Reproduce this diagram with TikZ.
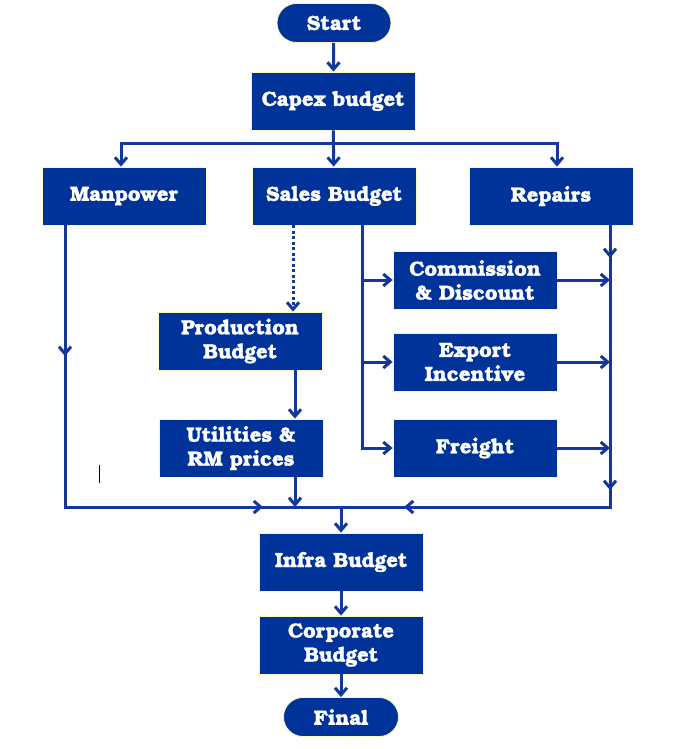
\documentclass[tikz,border=0pt]{standalone}
\usepackage{fontspec}
\setmainfont{TeX Gyre Bonum}[BoldFeatures={FakeBold=1.2}]
\usetikzlibrary{arrows.meta}
\definecolor{boxblue}{RGB}{0,51,153}
\definecolor{lineblue}{RGB}{20,55,155}
\definecolor{edgey}{RGB}{250,250,190}
\begin{document}
\begin{tikzpicture}[x=1pt,y=-1pt,
  box/.style={rectangle, fill=boxblue, draw=edgey, line width=0.8pt,
    minimum width=164pt, minimum height=58pt, inner sep=0pt, text=white,
    font=\fontsize{20.5}{24}\selectfont\bfseries, align=center},
  pill/.style={box, rounded corners=19.5pt, minimum height=39pt, minimum width=114pt},
  ln/.style={draw=lineblue, line width=3pt},
  arr/.style={ln, -{Straight Barb[length=7pt,width=12pt]}}]
\useasboundingbox (0,0) rectangle (676,749);
\fill[white] (0,0) rectangle (676,749);
% nodes
\node[pill] (start) at (334,23) {Start};
\node[box] (capex) at (333,101) {Capex budget};
\node[box] (mp) at (124,196) {Manpower};
\node[box] (sales) at (334,196) {Sales Budget};
\node[box] (rep) at (551,196) {Repairs};
\node[box] (cd) at (475,280) {Commission\\\& Discount};
\node[box] (ex) at (475,362) {Export\\Incentive};
\node[box] (fr) at (475,448) {Freight};
\node[box] (prod) at (240,341) {Production\\Budget};
\node[box] (util) at (241,448) {Utilities \&\\RM prices};
\node[box] (infra) at (341,562) {Infra Budget};
\node[box] (corp) at (341,645) {Corporate\\Budget};
\node[pill, minimum width=115pt] (final) at (341,717) {Final};
% helper coordinates
\coordinate (bL) at (121,143);
\coordinate (bR) at (557,143);
\coordinate (mx) at (65,0);
\coordinate (rx) at (610,0);
\coordinate (sx) at (362,0);
\coordinate (dx) at (293,0);
\coordinate (px) at (295,0);
\coordinate (bl1) at (65,507);
\coordinate (bl2) at (610,507);
\coordinate (bm) at (341,507);
\coordinate (mpa) at (65,356);
\coordinate (ra1) at (610,258);
\coordinate (ra2) at (610,490);
\coordinate (ba1) at (263,507);
\coordinate (ba2) at (404,507);
% connectors
\draw[arr] (start) -- (capex);
\draw[arr] (capex) -- (sales);
\draw[arr] (bR) -- (bL) -- (bL |- mp.north);
\draw[arr] (bL) -- (bR) -- (bR |- rep.north);
\draw[arr, dash pattern=on 3pt off 2.5pt] (dx |- sales.south) -- (dx |- prod.north);
\draw[arr] (sx |- sales.south) -- (sx |- fr.west) -- (fr.west);
\draw[arr] (sx |- cd.west) -- (cd.west);
\draw[arr] (sx |- ex.west) -- (ex.west);
\draw[arr] (cd.east) -- (rx |- cd.east);
\draw[arr] (ex.east) -- (rx |- ex.east);
\draw[arr] (fr.east) -- (rx |- fr.east);
\draw[ln] (mx |- mp.south) -- (bl1) -- (bl2) -- (rx |- rep.south);
\draw[arr] (mx |- mp.south) -- (mpa);
\draw[arr] (rx |- rep.south) -- (ra1);
\draw[arr] (ra1) -- (ra2);
\draw[arr] (bl1) -- (ba1);
\draw[arr] (bl2) -- (ba2);
\draw[arr] (px |- prod.south) -- (px |- util.north);
\draw[arr] (px |- util.south) -- (px |- bl1);
\draw[arr] (bm) -- (infra);
\draw[arr] (infra) -- (corp);
\draw[arr] (corp) -- (final);
% stray mark
\draw[black, line width=0.7pt] (99,465) -- (99,483);
\end{tikzpicture}
\end{document}
